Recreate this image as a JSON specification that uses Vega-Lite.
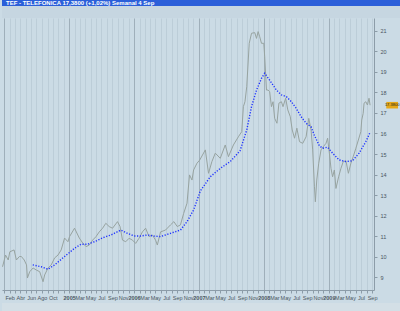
{
  "$schema": "https://vega.github.io/schema/vega-lite/v6.json",
  "padding": 0,
  "spacing": 0,
  "background": "#cbdbe5",
  "config": {"font": "Liberation Sans", "view": {"stroke": null}, "axis": {"labelOverlap": false}, "axisY": {"labelOverlap": false}},
  "datasets": {
    "price": [
      {"d": "2003-12-23", "v": 9.5}, {"d": "2004-01-09", "v": 10.07}, {"d": "2004-01-24", "v": 9.83}, {"d": "2004-02-02", "v": 10.23},
      {"d": "2004-02-26", "v": 10.32}, {"d": "2004-03-10", "v": 9.83}, {"d": "2004-03-27", "v": 10.0}, {"d": "2004-04-07", "v": 10.0},
      {"d": "2004-04-23", "v": 9.83}, {"d": "2004-05-06", "v": 9.59}, {"d": "2004-05-11", "v": 8.95}, {"d": "2004-05-24", "v": 9.26},
      {"d": "2004-06-12", "v": 9.44}, {"d": "2004-06-30", "v": 9.34}, {"d": "2004-07-19", "v": 9.26}, {"d": "2004-08-07", "v": 8.77},
      {"d": "2004-08-16", "v": 9.1}, {"d": "2004-09-04", "v": 9.44}, {"d": "2004-09-22", "v": 9.59}, {"d": "2004-10-11", "v": 9.93},
      {"d": "2004-10-30", "v": 10.07}, {"d": "2004-11-17", "v": 10.32}, {"d": "2004-12-06", "v": 10.9}, {"d": "2004-12-25", "v": 10.72},
      {"d": "2005-01-03", "v": 10.97}, {"d": "2005-01-31", "v": 11.38}, {"d": "2005-02-27", "v": 10.9}, {"d": "2005-03-18", "v": 10.66},
      {"d": "2005-04-06", "v": 10.48}, {"d": "2005-04-24", "v": 10.56}, {"d": "2005-05-13", "v": 10.8}, {"d": "2005-06-01", "v": 10.97},
      {"d": "2005-06-19", "v": 11.2}, {"d": "2005-07-08", "v": 11.38}, {"d": "2005-07-26", "v": 11.62}, {"d": "2005-08-14", "v": 11.46},
      {"d": "2005-09-02", "v": 11.38}, {"d": "2005-09-30", "v": 11.7}, {"d": "2005-10-14", "v": 11.46}, {"d": "2005-10-28", "v": 10.8},
      {"d": "2005-11-15", "v": 10.72}, {"d": "2005-12-04", "v": 10.89}, {"d": "2005-12-23", "v": 10.8}, {"d": "2006-01-10", "v": 10.64},
      {"d": "2006-01-29", "v": 10.89}, {"d": "2006-02-17", "v": 11.2}, {"d": "2006-03-07", "v": 11.38}, {"d": "2006-03-26", "v": 10.97},
      {"d": "2006-04-14", "v": 11.05}, {"d": "2006-05-02", "v": 10.8}, {"d": "2006-05-12", "v": 10.56}, {"d": "2006-05-30", "v": 11.2},
      {"d": "2006-06-27", "v": 11.29}, {"d": "2006-07-25", "v": 11.54}, {"d": "2006-08-13", "v": 11.7}, {"d": "2006-09-01", "v": 11.46},
      {"d": "2006-09-19", "v": 11.54}, {"d": "2006-10-07", "v": 12.1}, {"d": "2006-10-26", "v": 12.6}, {"d": "2006-11-09", "v": 13.98},
      {"d": "2006-11-23", "v": 13.73}, {"d": "2006-12-02", "v": 14.22}, {"d": "2006-12-21", "v": 14.55}, {"d": "2007-01-05", "v": 14.7},
      {"d": "2007-02-06", "v": 15.2}, {"d": "2007-02-24", "v": 14.06}, {"d": "2007-03-15", "v": 14.63}, {"d": "2007-04-03", "v": 15.04},
      {"d": "2007-05-01", "v": 14.79}, {"d": "2007-05-29", "v": 15.44}, {"d": "2007-06-16", "v": 14.87}, {"d": "2007-07-14", "v": 15.44},
      {"d": "2007-08-11", "v": 15.84}, {"d": "2007-08-30", "v": 16.09}, {"d": "2007-09-08", "v": 17.31}, {"d": "2007-09-17", "v": 17.55},
      {"d": "2007-09-27", "v": 18.28}, {"d": "2007-10-11", "v": 20.4}, {"d": "2007-10-24", "v": 20.89}, {"d": "2007-11-11", "v": 20.92},
      {"d": "2007-11-21", "v": 20.64}, {"d": "2007-11-30", "v": 20.97}, {"d": "2007-12-09", "v": 20.72}, {"d": "2007-12-19", "v": 20.4},
      {"d": "2008-01-01", "v": 20.4}, {"d": "2008-01-06", "v": 19.75}, {"d": "2008-01-16", "v": 18.12}, {"d": "2008-01-25", "v": 18.12},
      {"d": "2008-02-03", "v": 18.04}, {"d": "2008-02-13", "v": 17.31}, {"d": "2008-02-22", "v": 17.55}, {"d": "2008-03-02", "v": 16.74},
      {"d": "2008-03-15", "v": 16.5}, {"d": "2008-03-26", "v": 17.48}, {"d": "2008-04-09", "v": 17.55}, {"d": "2008-04-18", "v": 17.31},
      {"d": "2008-05-03", "v": 17.72}, {"d": "2008-05-15", "v": 17.15}, {"d": "2008-05-29", "v": 16.82}, {"d": "2008-06-09", "v": 16.17},
      {"d": "2008-06-22", "v": 15.77}, {"d": "2008-07-05", "v": 16.26}, {"d": "2008-07-20", "v": 15.6}, {"d": "2008-08-07", "v": 15.52},
      {"d": "2008-08-26", "v": 15.84}, {"d": "2008-09-10", "v": 16.74}, {"d": "2008-09-23", "v": 16.17}, {"d": "2008-10-02", "v": 15.2},
      {"d": "2008-10-12", "v": 13.4}, {"d": "2008-10-17", "v": 12.67}, {"d": "2008-10-25", "v": 13.73}, {"d": "2008-11-05", "v": 14.55},
      {"d": "2008-11-18", "v": 15.2}, {"d": "2008-12-01", "v": 15.36}, {"d": "2008-12-16", "v": 15.52}, {"d": "2008-12-25", "v": 15.77},
      {"d": "2009-01-04", "v": 15.04}, {"d": "2009-01-13", "v": 14.3}, {"d": "2009-01-22", "v": 13.89}, {"d": "2009-02-01", "v": 14.22},
      {"d": "2009-02-10", "v": 13.32}, {"d": "2009-02-25", "v": 13.89}, {"d": "2009-03-10", "v": 14.3}, {"d": "2009-03-23", "v": 14.63},
      {"d": "2009-04-07", "v": 14.67}, {"d": "2009-04-21", "v": 14.06}, {"d": "2009-05-05", "v": 14.55}, {"d": "2009-05-18", "v": 14.87},
      {"d": "2009-06-02", "v": 15.28}, {"d": "2009-06-16", "v": 15.68}, {"d": "2009-06-30", "v": 16.09}, {"d": "2009-07-05", "v": 16.66},
      {"d": "2009-07-13", "v": 16.98}, {"d": "2009-07-18", "v": 17.48}, {"d": "2009-07-28", "v": 17.55}, {"d": "2009-08-06", "v": 17.39},
      {"d": "2009-08-15", "v": 17.72}, {"d": "2009-08-21", "v": 17.38}
    ],
    "ma": [
      {"d": "2004-06-10", "v": 9.59}, {"d": "2004-07-28", "v": 9.5}, {"d": "2004-09-04", "v": 9.38}, {"d": "2004-10-11", "v": 9.59},
      {"d": "2004-12-06", "v": 10.0}, {"d": "2005-01-31", "v": 10.4}, {"d": "2005-03-09", "v": 10.6}, {"d": "2005-04-15", "v": 10.6},
      {"d": "2005-05-22", "v": 10.72}, {"d": "2005-07-17", "v": 10.94}, {"d": "2005-08-24", "v": 11.05}, {"d": "2005-10-19", "v": 11.29},
      {"d": "2005-11-25", "v": 11.13}, {"d": "2006-01-01", "v": 11.0}, {"d": "2006-02-08", "v": 11.0}, {"d": "2006-03-17", "v": 11.05},
      {"d": "2006-04-23", "v": 11.0}, {"d": "2006-05-30", "v": 10.97}, {"d": "2006-07-25", "v": 11.13}, {"d": "2006-09-19", "v": 11.29},
      {"d": "2006-10-26", "v": 11.7}, {"d": "2006-12-02", "v": 12.27}, {"d": "2007-01-09", "v": 13.2}, {"d": "2007-03-06", "v": 13.89},
      {"d": "2007-05-01", "v": 14.3}, {"d": "2007-06-26", "v": 14.63}, {"d": "2007-08-20", "v": 15.15}, {"d": "2007-09-27", "v": 16.17},
      {"d": "2007-10-24", "v": 17.31}, {"d": "2007-11-21", "v": 18.12}, {"d": "2007-12-19", "v": 18.69}, {"d": "2008-01-06", "v": 18.94},
      {"d": "2008-02-03", "v": 18.6}, {"d": "2008-03-12", "v": 18.12}, {"d": "2008-04-09", "v": 17.88}, {"d": "2008-05-07", "v": 17.8},
      {"d": "2008-06-04", "v": 17.55}, {"d": "2008-07-01", "v": 17.23}, {"d": "2008-07-29", "v": 16.82}, {"d": "2008-08-26", "v": 16.5},
      {"d": "2008-09-23", "v": 16.33}, {"d": "2008-10-12", "v": 15.9}, {"d": "2008-11-09", "v": 15.4}, {"d": "2008-11-27", "v": 15.28},
      {"d": "2008-12-25", "v": 15.33}, {"d": "2009-01-22", "v": 15.04}, {"d": "2009-02-28", "v": 14.71}, {"d": "2009-04-07", "v": 14.63},
      {"d": "2009-05-14", "v": 14.67}, {"d": "2009-06-20", "v": 15.04}, {"d": "2009-07-28", "v": 15.6}, {"d": "2009-08-21", "v": 16.06}
    ],
    "last": [{"x0": "2009-11-20", "x1": "2010-01-25", "xm": "2009-12-23", "lo": 17.22, "hi": 17.54, "v": 17.38, "t": "17.3800"}]
  },
  "vconcat": [
    {
      "width": 400, "height": 6,
      "view": {"fill": "#2b5fd9", "stroke": null},
      "data": {"values": [{"t": "TEF - TELEFONICA     17,3800 (+1,02%)     Semanal  4 Sep"}]},
      "mark": {"type": "text", "align": "left", "dx": -196, "baseline": "middle", "color": "white", "fontWeight": "bold", "fontSize": 6},
      "encoding": {"text": {"field": "t"}}
    },
    {
      "width": 400, "height": 12,
      "view": {"fill": "#c6d6e1", "stroke": null},
      "data": {"values": [{"t": ""}]},
      "mark": {"type": "text"},
      "encoding": {"text": {"field": "t"}}
    },
    {
      "width": 372, "height": 272,
      "view": {"fill": "#cbdbe5", "stroke": null},
      "encoding": {
        "x": {"field": "d", "type": "temporal", "scale": {"domain": ["2003-12-20", "2009-09-12"]},
          "axis": {"title": null, "tickCount": {"interval": "month", "step": 1}, "grid": true,
            "gridColor": {"condition": {"test": "month(datum.value)==0", "value": "#9fafba"}, "value": "#bccdd8"},
            "labelExpr": "year(datum.value)==2003 ? '' : (year(datum.value)==2004 ? ((month(datum.value)%2==1 && month(datum.value)<10) ? ['Ene','Feb','Mar','Abr','May','Jun','Jul','Ago','Sep','Oct','Nov','Dic'][month(datum.value)] : '') : (month(datum.value)==0 ? '' + year(datum.value) : (month(datum.value)%2==0 ? ['Ene','Feb','Mar','Abr','May','Jun','Jul','Ago','Sep','Oct','Nov','Dic'][month(datum.value)] : '')))",
            "labelFontSize": 5.5, "labelColor": "#4a5560",
            "labelFontWeight": {"condition": {"test": "month(datum.value)==0", "value": "bold"}, "value": "normal"},
            "tickSize": 3, "tickColor": "#8c9ca8", "domainColor": "#8c9ca8", "labelPadding": 2, "labelOverlap": false, "labelFlush": false}},
        "y": {"field": "v", "type": "quantitative", "scale": {"domain": [8.366, 21.634], "nice": false, "zero": false},
          "axis": {"orient": "right", "title": null, "values": [9, 10, 11, 12, 13, 14, 15, 16, 17, 18, 19, 20, 21], "grid": false,
            "labelOverlap": false, "labelFlush": false, "labelBound": false,
            "labelFontSize": 5.5, "labelColor": "#4a5560", "tickSize": 3, "tickColor": "#8c9ca8", "domainColor": "#8c9ca8", "labelPadding": 3}}
      },
      "layer": [
        {
          "data": {"name": "price"},
          "mark": {"type": "line", "color": "#97a3a0", "strokeWidth": 1}
        },
        {
          "data": {"name": "ma"},
          "mark": {"type": "line", "color": "#1f33ff", "strokeWidth": 1.4, "strokeDash": [1.2, 1.6]}
        },
        {
          "data": {"name": "last"},
          "mark": {"type": "rect", "color": "#e6a817", "clip": false},
          "encoding": {
            "x": {"field": "x0", "type": "temporal"}, "x2": {"field": "x1"},
            "y": {"field": "lo", "type": "quantitative"}, "y2": {"field": "hi"}
          }
        },
        {
          "data": {"name": "last"},
          "mark": {"type": "text", "fontSize": 4, "color": "#1a1a1a", "clip": false},
          "encoding": {
            "x": {"field": "xm", "type": "temporal"},
            "text": {"field": "t"}
          }
        }
      ]
    },
    {
      "width": 400, "height": 9,
      "view": {"fill": "#d3dfe6", "stroke": null},
      "data": {"values": [{"t": ""}]},
      "mark": {"type": "text"},
      "encoding": {"text": {"field": "t"}}
    }
  ]
}
